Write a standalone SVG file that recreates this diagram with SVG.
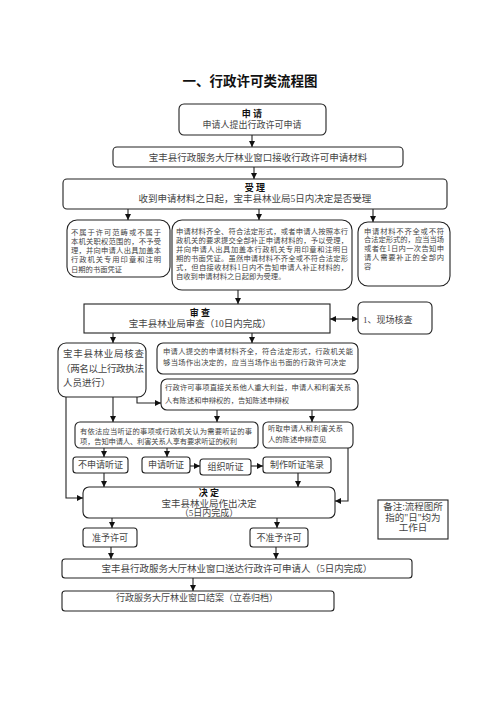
<svg xmlns="http://www.w3.org/2000/svg" width="496" height="702" viewBox="0 0 496 702">
<style>
.b{fill:#fff;stroke:#222;stroke-width:1.1}
.t{font-family:"Liberation Serif","Noto Sans CJK SC",serif;fill:#444}
.h{font-family:"Liberation Serif","Noto Sans CJK SC",serif;fill:#111;font-weight:bold}
.c{text-anchor:middle}
.s7{font-size:7.3px}
.s9{font-size:9px}
.s95{font-size:9.5px}
.ln{fill:none;stroke:#222;stroke-width:1.1}
</style>
<defs>
<marker id="a" markerWidth="6" markerHeight="6" refX="6" refY="3" orient="auto-start-reverse" markerUnits="userSpaceOnUse"><path d="M0,0 L6,3 L0,6 z" fill="#111"/></marker>
</defs>
<rect width="496" height="702" fill="#fff"/>
<text class="h c" x="250" y="86" font-size="13.5">一、行政许可类流程图</text>

<g id="apply"><rect class="b" x="179" y="104" width="147" height="31" rx="5"/>
<text class="h c s9" x="252" y="116.5">申 请</text>
<text class="t c s9" x="252" y="128">申请人提出行政许可申请</text></g>

<g id="receive"><rect class="b" x="113" y="147" width="290" height="20" rx="4"/>
<text class="t c s95" x="258" y="160.5">宝丰县行政服务大厅林业窗口接收行政许可申请材料</text></g>

<g id="accept"><rect class="b" x="63" y="179" width="384" height="30" rx="4"/>
<text class="h c s9" x="255" y="191">受 理</text>
<text class="t c s95" x="255" y="201.5">收到申请材料之日起，宝丰县林业局5日内决定是否受理</text></g>

<g id="reject"><rect class="b" x="67" y="220" width="103" height="57" rx="10"/>
<text class="t s7" x="71" y="234.5" textLength="90" lengthAdjust="spacing">不属于许可范畴或不属于</text>
<text class="t s7" x="71" y="243.5" textLength="90" lengthAdjust="spacing">本机关职权范围的，不予受</text>
<text class="t s7" x="71" y="252.5" textLength="90" lengthAdjust="spacing">理，并向申请人出具加盖本</text>
<text class="t s7" x="71" y="262" textLength="90" lengthAdjust="spacing">行政机关专用印章和注明</text>
<text class="t s7" x="71" y="271.5">日期的书面凭证</text></g>

<g id="accepted"><rect class="b" x="172" y="220" width="180" height="70" rx="10"/>
<text class="t s7" x="176" y="233.5" textLength="172" lengthAdjust="spacing">申请材料齐全、符合法定形式，或者申请人按照本行</text>
<text class="t s7" x="176" y="242.5" textLength="172" lengthAdjust="spacing">政机关的要求提交全部补正申请材料的，予以受理，</text>
<text class="t s7" x="176" y="251.5" textLength="172" lengthAdjust="spacing">并向申请人出具加盖本行政机关专用印章和注明日</text>
<text class="t s7" x="176" y="260.5" textLength="172" lengthAdjust="spacing">期的书面凭证。虽然申请材料不齐全或不符合法定形</text>
<text class="t s7" x="176" y="269.5" textLength="172" lengthAdjust="spacing">式，但自接收材料1日内不告知申请人补正材料的，</text>
<text class="t s7" x="176" y="278.5">自收到申请材料之日起即为受理。</text></g>

<g id="supplement"><rect class="b" x="358" y="222" width="92" height="64" rx="10"/>
<text class="t s7" x="364" y="233.5" textLength="80" lengthAdjust="spacing">申请材料不齐全或不符</text>
<text class="t s7" x="364" y="242" textLength="80" lengthAdjust="spacing">合法定形式的，应当当场</text>
<text class="t s7" x="364" y="251" textLength="80" lengthAdjust="spacing">或者在1日内一次告知申</text>
<text class="t s7" x="364" y="260" textLength="80" lengthAdjust="spacing">请人需要补正的全部内</text>
<text class="t s7" x="364" y="269">容</text></g>

<g id="review"><rect class="b" x="84" y="304" width="246" height="29"/>
<text class="h c s9" x="200" y="316">审 查</text>
<text class="t c s95" x="200" y="326.5">宝丰县林业局审查（10日内完成）</text></g>

<g id="site"><rect class="b" x="358" y="302" width="74" height="32" rx="5"/>
<text class="t s9" x="363" y="323">1、现场核查</text></g>

<g id="verify"><rect class="b" x="58" y="343" width="88" height="54" rx="8"/>
<text class="t s95" x="63" y="356.5" textLength="81" lengthAdjust="spacing">宝丰县林业局核查</text>
<text class="t s95" x="61" y="371.5" textLength="83" lengthAdjust="spacing">（两名以上行政执法</text>
<text class="t s95" x="63" y="385.5">人员进行）</text></g>

<g id="onsite"><rect class="b" x="157" y="343" width="201" height="31" rx="6"/>
<text class="t s7" x="163" y="353.7" textLength="190" lengthAdjust="spacing">申请人提交的申请材料齐全，符合法定形式，行政机关能</text>
<text class="t s7" x="163" y="364.7" textLength="183" lengthAdjust="spacing">够当场作出决定的，应当当场作出书面的行政许可决定</text></g>

<g id="interest"><rect class="b" x="161" y="379" width="197" height="31" rx="6"/>
<text class="t s7" x="165" y="389.5" textLength="186" lengthAdjust="spacing">行政许可事项直接关系他人重大利益，申请人和利害关系</text>
<text class="t s7" x="165" y="402.5">人有陈述和申辩权的，告知陈述申辩权</text></g>

<g id="hearing"><rect class="b" x="75" y="422" width="183" height="26" rx="5"/>
<text class="t s7" x="80" y="433.5" textLength="172" lengthAdjust="spacing">有依法应当听证的事项或行政机关认为需要听证的事</text>
<text class="t s7" x="80" y="443.5" textLength="157" lengthAdjust="spacing">项，告知申请人、利害关系人享有要求听证的权利</text></g>

<g id="listen"><rect class="b" x="263" y="422" width="90" height="26" rx="5"/>
<text class="t s7" x="268" y="430.5" textLength="75" lengthAdjust="spacing">听取申请人和利害关系</text>
<text class="t s7" x="268" y="441.5">人的陈述申辩意见</text></g>

<g id="noreq"><rect class="b" x="73" y="457" width="55" height="16" rx="3"/>
<text class="t c s9" x="100.5" y="468">不申请听证</text></g>
<g id="req"><rect class="b" x="142" y="457" width="48" height="16" rx="3"/>
<text class="t c s9" x="166" y="468">申请听证</text></g>
<g id="org"><rect class="b" x="200" y="459" width="51" height="16" rx="3"/>
<text class="t c s9" x="225.5" y="470">组织听证</text></g>
<g id="record"><rect class="b" x="263" y="457" width="68" height="16" rx="3"/>
<text class="t c s9" x="297" y="468">制作听证笔录</text></g>

<g id="decide"><rect class="b" x="83" y="487" width="252" height="31" rx="6"/>
<text class="h c s9" x="209" y="496">决 定</text>
<text class="t c s95" x="209" y="506.5">宝丰县林业局作出决定</text>
<text class="t c s9" x="209" y="515.5">（5日内完成）</text></g>

<g id="note"><rect class="b" x="378" y="500" width="70" height="39"/>
<text class="t c s95" x="413" y="510">备注:流程图所</text>
<text class="t c s95" x="413" y="520.5">指的"日"均为</text>
<text class="t c s95" x="413" y="531">工作日</text></g>

<g id="grant"><rect class="b" x="83" y="528" width="54" height="19" rx="3"/>
<text class="t c s9" x="110" y="540.5">准予许可</text></g>
<g id="deny"><rect class="b" x="250" y="528" width="58" height="19" rx="3"/>
<text class="t c s9" x="279" y="540.5">不准予许可</text></g>

<g id="deliver"><rect class="b" x="62" y="559" width="350" height="19" rx="3"/>
<text class="t c s95" x="237" y="571.5">宝丰县行政服务大厅林业窗口送达行政许可申请人（5日内完成）</text></g>

<g id="close"><rect class="b" x="62" y="591" width="272" height="20" rx="3"/>
<text class="t c s9" x="197" y="601">行政服务大厅林业窗口结案（立卷归档）</text></g>

<g id="connectors" class="ln" marker-end="url(#a)">
<path d="M252,135V147"/>
<path d="M254,167V179"/>
<path d="M128,209V220"/>
<path d="M259,209V220"/>
<path d="M373,209V222"/>
<path d="M238,290V304"/>
<path d="M330,319H358" marker-start="url(#a)"/>
<path d="M113,333V343"/>
<path d="M252,333V343"/>
<path d="M137,397V403H161"/>
<path d="M66,397V498H83"/>
<path d="M113,397V422"/>
<path d="M217,410V422"/>
<path d="M312,410V422"/>
<path d="M104,448V457"/>
<path d="M167,448V457"/>
<path d="M190,466H200"/>
<path d="M251,466H263"/>
<path d="M104,473V487"/>
<path d="M298,473V487"/>
<path d="M348,448V501H335"/>
<path d="M112,518V528"/>
<path d="M277,518V528"/>
<path d="M111,547V559"/>
<path d="M276,547V559"/>
<path d="M193,578V591"/>
</g>
</svg>
